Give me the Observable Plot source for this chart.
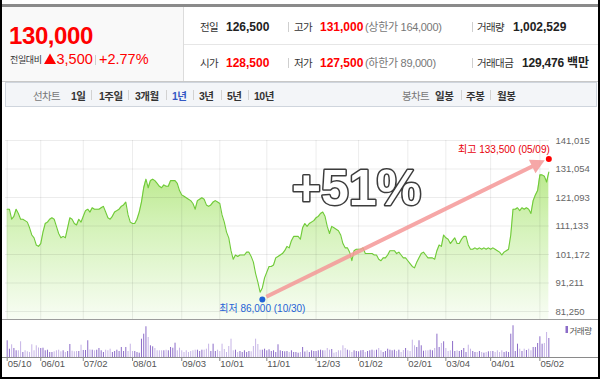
<!DOCTYPE html>
<html lang="ko"><head><meta charset="utf-8">
<script src="https://cdn.jsdelivr.net/npm/d3@7"></script>
<script src="https://cdn.jsdelivr.net/npm/@observablehq/plot@0.6"></script>
<style>
html,body{margin:0;padding:0;background:#fff;}
#wrap{position:relative;width:600px;height:379px;overflow:hidden;background:#fff;font-family:"Liberation Sans",Arial,"Noto Sans CJK KR",sans-serif;}
#hdr{position:absolute;left:0;top:0;}
.pl{position:absolute;left:0;}
.pl svg{display:block;}
#frame{position:absolute;left:0;top:0;width:596px;height:377px;border:2px solid #000;border-top:none;pointer-events:none;}
.hl{position:absolute;left:0;width:600px;height:1px;}
</style></head><body>
<div id="wrap">
  <svg id="hdr" width="600" height="379"></svg>
  <div id="price" class="pl" style="top:120px"></div>
  <div id="vol" class="pl" style="top:320px"></div>
  <div class="hl" style="top:319px;background:#9c9c9c"></div>
  <div class="hl" style="top:357px;background:#8a8a8a"></div>
  <div id="frame"></div>
</div>
<script>
// ---------- quote summary ----------
const lastPrice = 130000;
const prevClose = 126500;
const openPrice = 128500;
const dayHigh = 131000;
const dayLow = 127500;
const upperLimit = 164000;
const lowerLimit = 89000;
const tradeVolume = 1002529;
const tradeAmountMillion = 129476;

const periodTabs = ["1일", "1주일", "3개월", "1년", "3년", "5년", "10년"];
const candleTabs = ["일봉", "주봉", "월봉"];

// ---------- chart data (daily closes, 2018-05-10 .. 2019-05-09, trading days) ----------
const tickIdx = [0, 15, 34, 56, 78, 95, 116, 138, 157, 179, 196, 216, 238];
const tickLabels = ["05/10","06/01","07/02","08/01","09/03","10/01","11/01","12/03","01/02","02/01","03/04","04/01","05/02"];
const yTicks = [141015, 131054, 121093, 111133, 101172, 91211, 81250];

const closes = [
117000,117000,113500,114500,117000,115500,113500,113500,113000,112500,
110500,108000,107000,104500,104000,105000,109000,112000,112500,113500,
114000,113500,111000,108500,107000,107500,107000,110500,114000,113500,
112000,111500,113500,112500,114500,116500,117000,116000,117500,117000,
117000,117000,117500,118000,116000,114000,113500,114500,116000,116500,
117000,118000,118500,119500,115000,112500,112000,112000,113500,116000,
119500,124500,127500,124500,127000,127500,127000,126000,125000,124500,
125500,125000,125000,127000,127000,127000,126000,123500,122000,121500,
121000,120500,120000,119000,117000,120000,120500,121000,120500,118500,
118000,118500,119500,120000,119500,119000,115000,112500,109000,107000,
102500,99500,101000,100500,101000,101000,101000,102000,102000,100500,
98500,94500,91500,88000,89500,93000,95000,97000,97000,97500,
100000,100500,101000,101500,102500,104000,103500,106000,107500,107500,
107500,106500,110500,112000,111000,112000,112500,113000,114000,114500,
115500,116000,114500,111000,108500,111000,110500,110000,109500,108000,
105000,103500,103500,102000,99000,102500,103000,103000,103000,103500,
101500,101500,101500,101500,101000,101000,99500,99000,100000,100000,
101000,102500,102500,102500,101500,102000,101000,100000,100000,99000,
98000,97000,96500,98500,100000,101500,102000,101000,100000,100000,
100000,99500,102500,104500,104000,108000,107000,106500,105000,106000,
107000,105000,105000,106500,107500,107500,104500,103000,103000,103500,
103000,103500,103000,103500,103000,103500,103000,103500,103000,102500,
102000,101000,102000,102500,103000,108000,117000,117000,117500,116500,
117500,117000,117500,117000,115500,120000,122000,123500,129000,129000,
128500,126500,130000];

// daily volume, thousand shares
const volumes = [
882,438,671,475,354,354,829,264,354,301,
264,671,354,618,502,475,491,354,385,264,
264,301,354,385,301,354,264,317,686,333,
301,317,317,649,370,370,882,396,385,354,
385,475,354,264,385,354,438,264,317,385,
317,528,317,528,317,702,317,317,264,227,
966,1230,1621,1056,618,565,475,354,354,354,
354,385,354,528,491,755,354,491,354,264,
354,264,317,354,385,385,317,385,385,438,
702,317,702,317,385,317,702,422,264,581,
966,354,385,264,317,264,354,264,317,301,
581,966,686,385,385,438,354,407,317,354,
264,671,354,317,301,317,264,354,264,264,
227,264,528,290,354,264,354,317,317,354,
385,354,354,475,385,422,227,264,354,354,
618,475,385,354,264,354,317,301,354,370,
264,317,354,385,354,385,475,354,264,317,
438,385,354,385,317,385,264,370,475,354,
317,913,618,528,882,618,333,354,354,385,
354,475,1230,528,739,829,475,317,354,845,
317,354,317,370,475,264,649,438,317,264,
264,317,264,227,264,301,317,317,264,354,
264,354,264,301,264,1230,1674,317,702,438,
317,438,370,438,354,528,528,739,1093,702,
739,1320,1003];

const lowPt = {i: 114, v: 86000, label: "최저 86,000 (10/30)"};
const highPt = {i: 242, v: 133500, label: "최고 133,500 (05/09)"};

// ---------- header ----------
const fmt = d3.format(",");
const FONT = '"Liberation Sans", Arial, "Noto Sans CJK KR", sans-serif';
const hdr = d3.select("#hdr").style("font-family", FONT);
function rect(x, y, w, h, fill, stroke) {
  return hdr.append("rect").attr("x", x).attr("y", y).attr("width", w).attr("height", h)
    .attr("fill", fill).attr("stroke", stroke || null);
}
function rule(x1, y1, x2, y2, c) {
  hdr.append("line").attr("x1", x1).attr("y1", y1).attr("x2", x2).attr("y2", y2)
    .attr("stroke", c).attr("stroke-width", 1);
}
function txt(x, y, s, o = {}) {
  return hdr.append("text").attr("x", x).attr("y", y).text(s)
    .attr("font-size", o.size || 11).attr("fill", o.fill || "#333")
    .attr("font-weight", o.bold ? "bold" : null)
    .attr("letter-spacing", o.ls != null ? o.ls : null)
    .attr("text-anchor", o.anchor || null);
}
const RED = "#f00";
rect(2, 7, 181, 74, "#f9f9f9");
rect(2, 4, 596, 3, "#8a8a8a");
rule(183.5, 7, 183.5, 81, "#dcdcdc");
rule(184, 44.5, 598, 44.5, "#e6e6e6");
rule(0, 81.5, 600, 81.5, "#c8c8c8");
rect(5.5, 82.5, 591, 24, "#f3f5f8", "#cfd5dd");

txt(9, 44, fmt(lastPrice), {size: 24, bold: true, fill: RED, ls: -0.4});
txt(10, 63, "전일대비", {size: 9, fill: "#333", ls: -0.4});
hdr.append("polygon").attr("points", "44,64 56,64 50,53.5").attr("fill", RED);
txt(56.5, 64, fmt(lastPrice - prevClose), {size: 14.5, fill: RED});
rule(95.5, 55, 95.5, 65, "#cfcfcf");
txt(99, 64, "+" + ((lastPrice / prevClose - 1) * 100).toFixed(2) + "%", {size: 14.5, fill: RED});

const LBL = {size: 10.5, fill: "#333", ls: -0.6};
const NUM = {size: 12, bold: true, fill: "#222"};
const SUB = {size: 11, fill: "#777", ls: -0.3};
// row 1
txt(200, 30.5, "전일", LBL); txt(226, 30.5, fmt(prevClose), NUM);
rule(288.5, 22, 288.5, 32, "#cfcfcf");
txt(294, 30.5, "고가", LBL); txt(320, 30.5, fmt(dayHigh), {...NUM, fill: RED});
txt(365, 30.5, "(상한가 " + fmt(upperLimit) + ")", SUB);
rule(472.5, 22, 472.5, 32, "#cfcfcf");
txt(477, 30.5, "거래량", LBL); txt(513, 30.5, fmt(tradeVolume), NUM);
// row 2
txt(200, 66.5, "시가", LBL); txt(226, 66.5, fmt(openPrice), {...NUM, fill: RED});
rule(288.5, 58, 288.5, 68, "#cfcfcf");
txt(294, 66.5, "저가", LBL); txt(320, 66.5, fmt(dayLow), {...NUM, fill: RED});
txt(365, 66.5, "(하한가 " + fmt(lowerLimit) + ")", SUB);
rule(472.5, 58, 472.5, 68, "#cfcfcf");
txt(477, 66.5, "거래대금", LBL); txt(522, 66.5, fmt(tradeAmountMillion) + " 백만", {...NUM, ls: -0.2});

// tabs
const TAB = {size: 10.5, bold: true, fill: "#333", ls: -0.5};
txt(33, 99.5, "선차트", {size: 10.5, fill: "#777", ls: -0.6});
const tabX = [71, 99, 135, 172, 199, 227, 254];
const tabSep = [91.5, 128.5, 166.5, 193.5, 221.5, 248.5];
periodTabs.forEach((t, k) => txt(tabX[k], 99.5, t, {...TAB, fill: t === "1년" ? "#3358c4" : "#333"}));
tabSep.forEach(x => rule(x, 90, x, 100, "#d2d2d2"));
txt(402, 99.5, "봉차트", {size: 10.5, fill: "#777", ls: -0.6});
const cTabX = [435, 466, 497];
candleTabs.forEach((t, k) => txt(cTabX[k], 99.5, t, TAB));
[461.5, 490.5].forEach(x => rule(x, 90, x, 100, "#d2d2d2"));

// volume legend
rect(565.5, 326, 2.5, 7, "#8c6cc8");
txt(569.5, 333.5, "거래량", {size: 8.5, fill: "#555", ls: -0.5});

// ---------- price chart ----------
const N = closes.length;
const xDomain = [-0.75, N - 1 + 0.3];
const yDomain = [78455, 141015];
const series = closes.map((c, i) => ({i, c, v: volumes[i] * 1000, up: i === 0 || c >= closes[i - 1]}));

const gradDefs = () => {
  const defs = d3.create("svg:defs");
  const g = defs.append("linearGradient").attr("id", "areaGrad")
    .attr("x1", 0).attr("y1", 0).attr("x2", 0).attr("y2", 1);
  g.append("stop").attr("offset", "0%").attr("stop-color", "#bce98e");
  g.append("stop").attr("offset", "35%").attr("stop-color", "#d3f2b7");
  g.append("stop").attr("offset", "100%").attr("stop-color", "#f8fdf4");
  return defs.node();
};

const arrowMark = (index, scales) => {
  const x0 = scales.x(lowPt.i), y0 = scales.y(lowPt.v) + 1.5;
  const x1 = scales.x(highPt.i), y1 = scales.y(highPt.v) - 3;
  const dx = x1 - x0, dy = y1 - y0, L = Math.hypot(dx, dy), ux = dx / L, uy = dy / L;
  const sx = x0 + ux * 5, sy = y0 + uy * 5, tx = x1 - ux * 4, ty = y1 - uy * 4;
  const hl = 14, hw = 7.5;
  const bx = tx - ux * hl, by = ty - uy * hl;
  const g = d3.create("svg:g").attr("opacity", 0.85);
  g.append("line").attr("x1", sx).attr("y1", sy).attr("x2", bx + ux).attr("y2", by + uy)
    .attr("stroke", "#f59898").attr("stroke-width", 4);
  g.append("polygon")
    .attr("points", [[tx, ty], [bx - uy * hw, by + ux * hw], [bx + uy * hw, by - ux * hw]].map(p => p.join(",")).join(" "))
    .attr("fill", "#f59898");
  return g.node();
};

const pctLabel = "+" + Math.round((closes[N - 1] / lowPt.v - 1) * 100) + "%";

const price = Plot.plot({
  width: 600, height: 199,
  marginTop: 20, marginBottom: 0, marginLeft: 5, marginRight: 51,
  x: {domain: xDomain, axis: null},
  y: {domain: yDomain, axis: null},
  style: {background: "transparent", overflow: "visible", fontFamily: FONT},
  marks: [
    gradDefs,
    Plot.areaY(series, {x: "i", y1: yDomain[0], y2: "c", fill: "url(#areaGrad)"}),
    Plot.ruleY(yTicks, {stroke: "#000", strokeOpacity: 0.075}),
    Plot.ruleX(tickIdx, {stroke: "#000", strokeOpacity: 0.075}),
    Plot.line(series, {x: "i", y: "c", stroke: "#6fca38", strokeWidth: 1.1}),
    Plot.text([pctLabel], {frameAnchor: "top-left", dx: 351, dy: 64, text: d => d, textAnchor: "middle",
      lineAnchor: "bottom", fontSize: 50, fontWeight: "bold", fill: "white", stroke: "#3c3c3c", strokeWidth: 3}),
    arrowMark,
    Plot.dot([highPt], {x: "i", y: "v", r: 3, fill: "#f00", dy: -3}),
    Plot.text([highPt], {x: "i", y: "v", text: "label", textAnchor: "end", dx: 1, dy: -12.5, fill: "#e8000b", fontSize: 10}),
    Plot.dot([lowPt], {x: "i", y: "v", r: 3, fill: "#1f63d6", dy: 1.5}),
    Plot.text([lowPt], {x: "i", y: "v", text: "label", textAnchor: "middle", dy: 10.6, fill: "#1f63d6", fontSize: 10}),
    Plot.text(yTicks, {y: d => d, text: d => fmt(d), frameAnchor: "right", textAnchor: "start", dx: 6, fill: "#666", fontSize: 9.5})
  ]
});
document.getElementById("price").append(price);

// ---------- volume chart ----------
const vol = Plot.plot({
  width: 600, height: 57,
  marginTop: 0, marginBottom: 20, marginLeft: 5, marginRight: 51,
  x: {domain: xDomain, axis: null},
  y: {domain: [0, 1952000], axis: null},
  style: {background: "transparent", overflow: "visible", fontFamily: FONT},
  marks: [
    Plot.ruleX(series, {x: "i", y1: 0, y2: "v", stroke: d => d.up ? "#8c6cc8" : "#c6b4e6", strokeWidth: 1}),
    Plot.ruleX(tickIdx, {x: d => d, y1: 0, y2: 0, insetBottom: -4, stroke: "#888"}),
    Plot.text(tickIdx, {x: d => d, text: (d, k) => tickLabels[k], frameAnchor: "bottom", dy: 9.5,
      textAnchor: "start", dx: 0.5, fill: "#555", fontSize: 9.5})
  ]
});
document.getElementById("vol").append(vol);
</script>
</body></html>
